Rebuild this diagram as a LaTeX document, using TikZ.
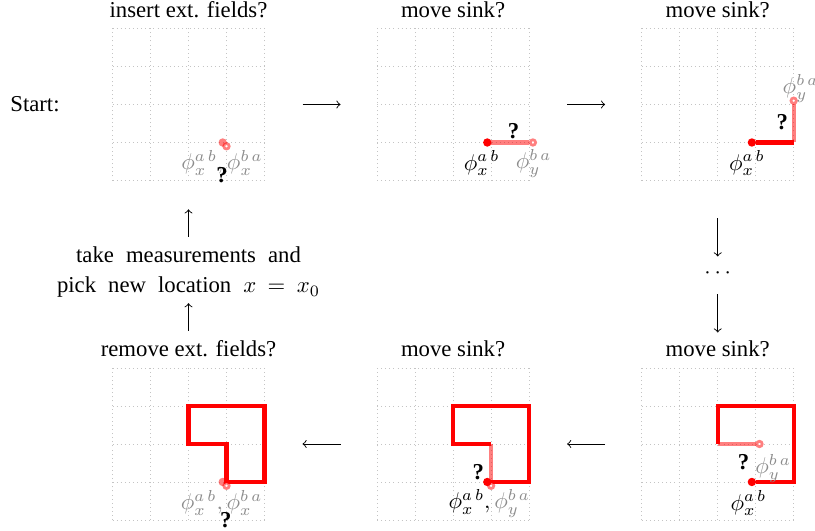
\documentclass[tikz,border=0pt]{standalone}
\usepackage[no-math]{fontspec}
\setmainfont{Liberation Serif}
\usetikzlibrary{arrows.meta,positioning}
\definecolor{sink}{HTML}{FF0000}
\definecolor{faint}{HTML}{8C8C8C}
\definecolor{dotgrid}{HTML}{C4C4C4}
\newcommand{\cellgrid}{\foreach \k in {0,...,4}{\draw[gridline] (\k,0) -- (\k,4); \draw[gridline] (0,\k) -- (4,\k);}}

\begin{document}
\begin{tikzpicture}[
  x=16.72pt,y=16.72pt,>=to,
  gridline/.style={dotgrid,line width=0.4pt,dash pattern=on 0.4pt off 1.4pt},
  panel/.style={minimum size=66.88pt,inner sep=0pt,outer sep=0pt},
  title/.style={anchor=base,inner sep=0pt},
  sinkpath/.style={sink,line width=1.8pt},
  trialpath/.style={sink,line width=1.8pt,draw opacity=0.5},
  xdot/.style={circle,fill=sink,inner sep=0pt,minimum size=3.7pt},
  ydot/.style={circle,draw=sink,draw opacity=0.5,fill=white,line width=1.2pt,inner sep=0pt,minimum size=2.4pt},
  lbl/.style={inner sep=0pt},
  ask/.style={inner sep=0pt,font=\bfseries},
  flow/.style={->,line width=0.4pt}
]
\useasboundingbox (-2.961,-9.224) rectangle (18.487,4.75);

\node[anchor=base west,inner sep=0pt] (start) at (-2.70,1.81) {Start:};

% top row
\begin{scope}[shift={(0,0)}]
\cellgrid
\node[panel] (p1) at (2,2) {};
\node[title] (t1) at (2,4.28) {insert ext. fields?};
\node[xdot,fill opacity=0.5] (x1) at (2.9,1) {};
\node[ydot] (y1) at (3,0.9) {};
\node[lbl,text=faint] (f1) at (2.88,0.46) {$\phi_x^{a\,b}, \phi_x^{b\,a}$};
\node[ask] (q1) at (2.88,0.15) {?};
\end{scope}

\begin{scope}[shift={(6.963,0)}]
\cellgrid
\node[panel] (p2) at (2,2) {};
\node[title] (t2) at (2,4.28) {move sink?};
\draw[trialpath] (3,1) -- (4,1);
\node[ydot] (y2) at (4.1,1) {};
\node[xdot] (x2) at (2.9,1) {};
\node[lbl] (a2) at (2.75,0.45) {$\phi_x^{a\,b}$};
\node[lbl,text=faint] (b2) at (4.12,0.45) {$\phi_y^{b\,a}$};
\node[ask] (q2) at (3.59,1.29) {?};
\end{scope}

\begin{scope}[shift={(13.926,0)}]
\cellgrid
\node[panel] (p3) at (2,2) {};
\node[title] (t3) at (2,4.28) {move sink?};
\draw[sinkpath] (3,1) -- (4,1);
\draw[trialpath] (4,1) -- (4,2);
\node[ydot] (y3) at (4,2.1) {};
\node[xdot] (x3) at (2.9,1) {};
\node[lbl] (a3) at (2.77,0.45) {$\phi_x^{a\,b}$};
\node[lbl,text=faint] (b3) at (4.18,2.43) {$\phi_y^{b\,a}$};
\node[ask] (q3) at (3.70,1.54) {?};
\end{scope}

% bottom row
\begin{scope}[shift={(0,-8.934)}]
\cellgrid
\node[panel] (p4) at (2,2) {};
\node[title] (t4) at (2,4.29) {remove ext. fields?};
\draw[sinkpath] (3,1) -- (4,1) -- (4,3) -- (2,3) -- (2,2) -- (3,2) -- cycle;
\node[xdot,fill opacity=0.5] (x4) at (2.9,1) {};
\node[ydot] (y4) at (3,0.9) {};
\node[lbl,text=faint] (f4) at (2.87,0.45) {$\phi_x^{a\,b}, \phi_x^{b\,a}$};
\node[ask] (q4) at (2.98,0.0) {?};
\end{scope}

\begin{scope}[shift={(6.963,-8.934)}]
\cellgrid
\node[panel] (p5) at (2,2) {};
\node[title] (t5) at (2,4.29) {move sink?};
\draw[sinkpath] (3,1) -- (4,1) -- (4,3) -- (2,3) -- (2,2) -- (3,2);
\draw[trialpath] (3,2) -- (3,1);
\node[ydot] (y5) at (3,0.9) {};
\node[xdot] (x5) at (2.9,1) {};
\node[lbl] (f5) at (2.95,0.44) {$\phi_x^{a\,b}, \textcolor{faint}{\phi_y^{b\,a}}$};
\node[ask] (q5) at (2.66,1.27) {?};
\end{scope}

\begin{scope}[shift={(13.926,-8.934)}]
\cellgrid
\node[panel] (p6) at (2,2) {};
\node[title] (t6) at (2,4.29) {move sink?};
\draw[sinkpath] (3,1) -- (4,1) -- (4,3) -- (2,3) -- (2,2);
\draw[trialpath] (2,2) -- (3,2);
\node[ydot] (y6) at (3.1,2) {};
\node[xdot] (x6) at (2.9,1) {};
\node[lbl] (a6) at (2.81,0.44) {$\phi_x^{a\,b}$};
\node[lbl,text=faint] (b6) at (3.46,1.36) {$\phi_y^{b\,a}$};
\node[ask] (q6) at (2.68,1.52) {?};
\end{scope}

% loop of steps
\node[inner sep=0pt,align=center,execute at begin node={\spaceskip=5.3pt\relax\thickmuskip=9mu}] (take) at (2,-2.416) {take measurements and\\[1.2pt]pick new location $x = x_0$};
\node[inner sep=0pt] (more) at (15.926,-2.44) {$\cdots$};

\draw[flow,shorten <=16.72pt,shorten >=16.1pt] (p1.east) -- (p2.west);
\draw[flow,shorten <=16.72pt,shorten >=16.1pt] (p2.east) -- (p3.west);
\draw[flow,shorten <=16.72pt,shorten >=7.36pt] (p3.south) -- (more.center);
\draw[flow,shorten <=9.36pt,shorten >=15.6pt] (more.center) -- (p6.north);
\draw[flow,shorten <=16.1pt,shorten >=16.72pt] (p6.west) -- (p5.east);
\draw[flow,shorten <=16.1pt,shorten >=16.72pt] (p5.west) -- (p4.east);
\draw[flow,shorten <=16.45pt,shorten >=13.6pt] (p4.north) -- (take.center);
\draw[flow,shorten <=15.65pt,shorten >=12.7pt] (take.center) -- (p1.south);
\end{tikzpicture}
\end{document}
